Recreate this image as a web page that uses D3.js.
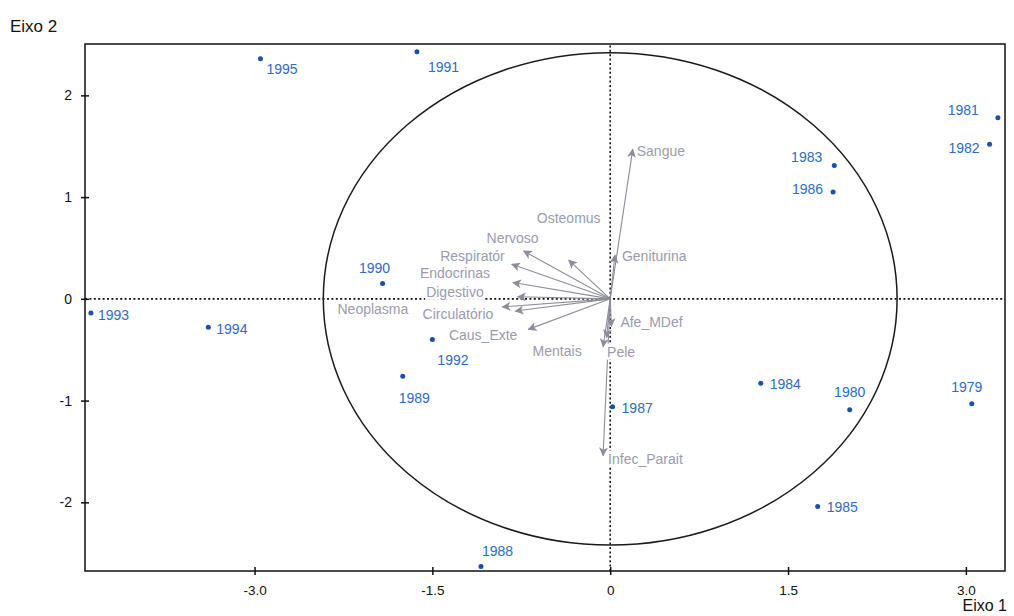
<!DOCTYPE html>
<html>
<head>
<meta charset="utf-8">
<script src="https://cdn.jsdelivr.net/npm/d3@7"></script>
<style>
  html, body { margin: 0; padding: 0; background: #fff; }
  svg { display: block; font-family: "Liberation Sans", Arial, sans-serif; }
</style>
</head>
<body>
<svg id="chart" width="1014" height="616"></svg>
<script>
// ---- data ----
const years = ["1979","1980","1981","1982","1983","1984","1985","1986","1987","1988","1989","1990","1991","1992","1993","1994","1995"];
const yearX = [3.05, 2.02, 3.27, 3.20, 1.89, 1.27, 1.75, 1.88, 0.02, -1.09, -1.75, -1.92, -1.63, -1.50, -4.38, -3.39, -2.95];
const yearY = [-1.03, -1.09, 1.78, 1.52, 1.31, -0.83, -2.04, 1.05, -1.06, -2.63, -0.76, 0.15, 2.43, -0.40, -0.14, -0.28, 2.36];

const vars = ["Sangue","Geniturina","Osteomus","Nervoso","Respiratór","Endocrinas","Digestivo","Circulatório","Neoplasma","Caus_Exte","Mentais","Afe_MDef","Pele","Infec_Parait"];
const varX = [0.19, 0.04, -0.35, -0.73, -0.83, -0.82, -0.78, -0.80, -0.91, -0.69, -0.03, 0.01, -0.06, -0.06];
const varY = [1.47, 0.43, 0.38, 0.47, 0.34, 0.16, 0.02, -0.12, -0.08, -0.30, -0.38, -0.27, -0.47, -1.54];

const circleRadius = 2.42;
const xTicks = [-3.0, -1.5, 0, 1.5, 3.0];
const yTicks = [-2, -1, 0, 1, 2];
const xTitle = "Eixo 1";
const yTitle = "Eixo 2";

// ---- label layout (pixel nudges, anchor) ----
const yearLabelLayout = [
  ["middle", -5, -17], ["middle", 0, -18], ["end", -19, -8], ["end", -10, 4], ["end", -12, -9],
  ["start", 9, 1], ["start", 9, 1], ["end", -10, -3], ["start", 9, 1], ["start", 1, -15],
  ["start", -4, 22], ["middle", -8, -16], ["start", 11, 15], ["start", 5, 20], ["start", 7, 2],
  ["start", 8, 2], ["start", 6, 10]
];
const varLabelLayout = [
  ["start", 4, 2], ["start", 7, 1], ["middle", 0, -42], ["end", 15, -13], ["end", -7, -8],
  ["end", -23, -10], ["end", -34, -5], ["end", -22, 3], ["end", -94, 2], ["end", -11, 6],
  ["end", -25, 13], ["start", 9, -4], ["start", 4, 5], ["start", 5, 3]
];

// ---- chart ----
const W = 1014, H = 616;
const margin = { left: 85, right: 9, top: 44, bottom: 45 };
const svg = d3.select("#chart");

const x = d3.scaleLinear().domain([-4.43, 3.33]).range([margin.left, W - margin.right]);
const y = d3.scaleLinear().domain([-2.675, 2.505]).range([H - margin.bottom, margin.top]);

svg.append("rect").attr("width", W).attr("height", H).attr("fill", "#fff");

// dotted zero lines
svg.append("line")
  .attr("x1", x.range()[0]).attr("x2", x.range()[1])
  .attr("y1", y(0)).attr("y2", y(0))
  .attr("stroke", "#111").attr("stroke-width", 1.6).attr("stroke-dasharray", "2,2.4");
svg.append("line")
  .attr("x1", x(0)).attr("x2", x(0))
  .attr("y1", y.range()[0]).attr("y2", y.range()[1])
  .attr("stroke", "#111").attr("stroke-width", 1.6).attr("stroke-dasharray", "2,2.4");

// correlation circle
svg.append("ellipse")
  .attr("cx", x(0)).attr("cy", y(0))
  .attr("rx", x(circleRadius) - x(0)).attr("ry", y(0) - y(circleRadius))
  .attr("fill", "none").attr("stroke", "#1a1a1a").attr("stroke-width", 1.5);

// arrow marker
svg.append("defs").append("marker")
  .attr("id", "ah").attr("viewBox", "0 0 10 10")
  .attr("refX", 9).attr("refY", 5)
  .attr("markerWidth", 10).attr("markerHeight", 9)
  .attr("markerUnits", "userSpaceOnUse")
  .attr("orient", "auto")
  .append("path").attr("d", "M0,0 L10,5 L0,10 L2.5,5 Z").attr("fill", "#8d8d99");

// vectors
const vIdx = d3.range(vars.length);
svg.append("g").selectAll("line").data(vIdx).join("line")
  .attr("x1", x(0)).attr("y1", y(0))
  .attr("x2", i => x(varX[i])).attr("y2", i => y(varY[i]))
  .attr("stroke", "#8d8d99").attr("stroke-width", 1.1)
  .attr("marker-end", "url(#ah)");

// vector labels with white background
const vl = svg.append("g").selectAll("g").data(vIdx).join("g");
vl.append("text")
  .attr("x", i => x(varX[i]) + varLabelLayout[i][1])
  .attr("y", i => y(varY[i]) + varLabelLayout[i][2])
  .attr("text-anchor", i => varLabelLayout[i][0])
  .attr("dominant-baseline", "central")
  .attr("font-size", 14)
  .attr("fill", "#9b9bad")
  .text(i => vars[i]);
vl.each(function() {
  const g = d3.select(this);
  const b = g.select("text").node().getBBox();
  g.insert("rect", "text")
    .attr("x", b.x - 1).attr("y", b.y)
    .attr("width", b.width + 2).attr("height", b.height)
    .attr("fill", "#fff");
});

// frame
svg.append("rect")
  .attr("x", x.range()[0]).attr("y", y.range()[1])
  .attr("width", x.range()[1] - x.range()[0])
  .attr("height", y.range()[0] - y.range()[1])
  .attr("fill", "none").attr("stroke", "#111").attr("stroke-width", 1.5);

// axes
const xAxis = svg.append("g")
  .attr("transform", `translate(0,${y.range()[0]})`)
  .call(d3.axisBottom(x).tickValues(xTicks).tickSize(4)
    .tickFormat(d => d === 0 ? "0" : d.toFixed(1)));
xAxis.select(".domain").remove();
xAxis.selectAll(".tick line").attr("y1", -4).attr("y2", 4).attr("stroke", "#111").attr("stroke-width", 1.5);
xAxis.selectAll(".tick text").attr("y", 14).attr("dy", "0.71em")
  .attr("font-size", 13.5).attr("font-family", "Liberation Sans, Arial, sans-serif").attr("fill", "#111");

const yAxis = svg.append("g")
  .attr("transform", `translate(${x.range()[0]},0)`)
  .call(d3.axisLeft(y).tickValues(yTicks).tickSize(4).tickFormat(d => String(d)));
yAxis.select(".domain").remove();
yAxis.selectAll(".tick line").attr("x1", -4).attr("x2", 4).attr("stroke", "#111").attr("stroke-width", 1.5);
yAxis.selectAll(".tick text").attr("x", -13)
  .attr("font-size", 14).attr("font-family", "Liberation Sans, Arial, sans-serif").attr("fill", "#111");

// axis titles
svg.append("text").attr("x", 10).attr("y", 32)
  .attr("font-size", 17).attr("fill", "#111").text(yTitle);
svg.append("text").attr("x", 1007).attr("y", 611)
  .attr("text-anchor", "end")
  .attr("font-size", 16).attr("fill", "#111").text(xTitle);

// year points
const yIdx = d3.range(years.length);
svg.append("g").selectAll("circle").data(yIdx).join("circle")
  .attr("cx", i => x(yearX[i])).attr("cy", i => y(yearY[i]))
  .attr("r", 2.5).attr("fill", "#1b4fa8");
svg.append("g").selectAll("text").data(yIdx).join("text")
  .attr("x", i => x(yearX[i]) + yearLabelLayout[i][1])
  .attr("y", i => y(yearY[i]) + yearLabelLayout[i][2])
  .attr("text-anchor", i => yearLabelLayout[i][0])
  .attr("dominant-baseline", "central")
  .attr("font-size", 14)
  .attr("fill", "#2c6cc4")
  .text(i => years[i]);
</script>
</body>
</html>
